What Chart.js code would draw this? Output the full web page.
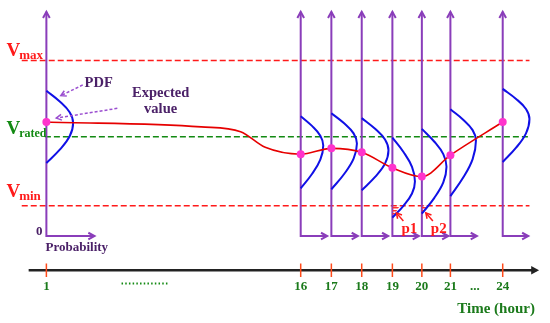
<!DOCTYPE html>
<html>
<head>
<meta charset="utf-8">
<script src="https://cdn.jsdelivr.net/npm/chart.js@4.4.1/dist/chart.umd.min.js"></script>
<style>
  body { margin: 0; background: #fff; }
  #wrap { width: 550px; height: 323px; }
</style>
</head>
<body>
<div id="wrap"><canvas id="myChart"></canvas></div>
<script>
// hours shown on the time axis and where each one sits along it
const hours = ['1', '16', '17', '18', '19', '20', '21', '24'];
const hourPos = [0, 8.46, 9.48, 10.49, 11.51, 12.49, 13.44, 15.18];
// expected voltage at each hour (magenta dots)
const expected = [11.7, 8.4, 9.0, 8.6, 7.0, 6.1, 8.3, 11.7];
// expected-value trace between hour 1 and hour 16 (no dots)
const trendPos = [5.15, 6.46, 7.28];
const trendVal = [11.2, 10.7, 9.1];
// PDF curves: top, widest point, bottom and width of each bell
const pdfTop = [14.9, 12.3, 12.6, 12.1, 10.1, 11.0, 13.0, 15.1];
const pdfPeak = [11.6, 9.3, 9.5, 8.8, 5.6, 7.1, 9.8, 12.0];
const pdfBottom = [7.5, 4.9, 4.8, 4.7, 1.9, 2.3, 4.1, 7.6];
const pdfWidth = [0.89, 0.75, 0.85, 0.89, 0.75, 0.82, 0.85, 0.89];
// probability arrow length at the foot of each axis
const probLen = [1.6, 0.88, 0.88, 0.88, 0.88, 0.88, 0.88, 0.85];
// voltage limits
const vMax = 18.0, vRated = 10.2, vMin = 3.1;
// tails below Vmin (p1, p2): hour index and curve offset at Vmin
const tailHour = [4, 5];
const tailDx = [0.25, 0.18];
const tailLabels = ['p1', 'p2'];

const axisTop = 23.0;
const timeY = -3.5;

const purple = '#8a3dba';
const blue = '#1010e6';
const red = '#ff1a1a';
const green = '#138a13';
const txtPurple = '#4b2168';
const txtGreen = '#1b7a1b';
const serif = "'Liberation Serif', 'DejaVu Serif', serif";

// bell outline: x fraction of width, y fraction of the half (top->peak, peak->bottom)
const bellX = [0, 0.5, 0.87, 1, 0.87, 0.5, 0];
const bellT = [0, 1 / 3, 2 / 3, 1, 1 / 3, 2 / 3, 1];

function seg(pts, color, width, extra) {
  return Object.assign({
    data: pts.map(p => ({x: p[0], y: p[1]})),
    showLine: true, borderColor: color, borderWidth: width,
    pointRadius: 0, fill: false, clip: false
  }, extra || {});
}

// hatch pattern for the tails
const pc = document.createElement('canvas');
pc.width = 4; pc.height = 3;
const pctx = pc.getContext('2d');
pctx.fillStyle = '#ff3030';
pctx.fillRect(0, 0, 4, 1.5);
const hatch = pctx.createPattern(pc, 'repeat');

const datasets = [];
// limit lines
datasets.push(seg([[-0.82, vMax], [16.07, vMax]], red, 1.5, {borderDash: [6, 3], order: 6}));
datasets.push(seg([[-0.05, vRated], [16.07, vRated]], green, 1.5, {borderDash: [6, 3], order: 6}));
datasets.push(seg([[-0.82, vMin], [16.07, vMin]], red, 1.5, {borderDash: [6, 3], order: 6}));
// time axis + ticks + dotted gap
datasets.push(seg([[-0.59, timeY], [16.3, timeY]], '#222', 2.5, {order: 6}));
hourPos.forEach(p => {
  datasets.push(seg([[p, timeY + 0.7], [p, timeY - 0.7]], '#ff4a1a', 1.5, {order: 5}));
});
datasets.push(seg([[2.5, -4.85], [4.05, -4.85]], green, 2, {borderDash: [1.5, 2.2], order: 5}));
// probability axes
hourPos.forEach((p, i) => {
  datasets.push(seg([[p + probLen[i], 0], [p, 0], [p, axisTop]], purple, 2, {order: 4}));
});
// PDF bells
hourPos.forEach((p, i) => {
  const pts = bellX.map((fx, k) => {
    const upper = k < 3 || (k === 3);
    const y = upper
      ? pdfTop[i] + (pdfPeak[i] - pdfTop[i]) * bellT[k]
      : pdfPeak[i] + (pdfBottom[i] - pdfPeak[i]) * bellT[k];
    return [p + fx * pdfWidth[i], y];
  });
  datasets.push(seg(pts, blue, 2, {tension: 0.4, order: 3}));
});
// tails below Vmin
tailHour.forEach((h, k) => {
  const p = hourPos[h];
  datasets.push(seg([[p, pdfBottom[h]], [p + tailDx[k], vMin]], 'rgba(0,0,0,0)', 0,
    {fill: {value: vMin}, backgroundColor: hatch, order: 3}));
});
// expected value trace
const trace = [[hourPos[0], expected[0]]];
trendPos.forEach((p, i) => trace.push([p, trendVal[i]]));
hourPos.slice(1).forEach((p, i) => trace.push([p, expected[i + 1]]));
datasets.push(seg(trace, '#e60000', 1.6, {cubicInterpolationMode: 'monotone', order: 2}));
// dots
datasets.push({
  data: hourPos.map((p, i) => ({x: p, y: expected[i]})),
  pointRadius: 4, pointBackgroundColor: '#ff33cc', pointBorderWidth: 0,
  showLine: false, clip: false, order: 1
});

function head(ctx, x, y, dx, dy, size, color, filled) {
  const a = Math.atan2(dy, dx);
  const s = 0.5;
  ctx.beginPath();
  ctx.moveTo(x - size * Math.cos(a - s), y - size * Math.sin(a - s));
  ctx.lineTo(x, y);
  ctx.lineTo(x - size * Math.cos(a + s), y - size * Math.sin(a + s));
  ctx.strokeStyle = color; ctx.fillStyle = color;
  if (filled) { ctx.closePath(); ctx.fill(); } else { ctx.stroke(); }
}

function arrow(ctx, x1, y1, x2, y2, color, dash) {
  ctx.save();
  ctx.beginPath();
  ctx.setLineDash(dash || []);
  ctx.moveTo(x1, y1); ctx.lineTo(x2, y2);
  ctx.strokeStyle = color; ctx.lineWidth = 1.5; ctx.stroke();
  ctx.setLineDash([]);
  head(ctx, x2, y2, x2 - x1, y2 - y1, 6, color, false);
  ctx.restore();
}

function vLabel(ctx, x, y, sub, color, subSize) {
  ctx.fillStyle = color;
  ctx.textAlign = 'left'; ctx.textBaseline = 'alphabetic';
  ctx.font = 'bold 19px ' + serif;
  ctx.fillText('V', x, y);
  const w = ctx.measureText('V').width;
  ctx.font = 'bold ' + subSize + 'px ' + serif;
  ctx.fillText(sub, x + w - 1, y + 3);
}

const decor = {
  id: 'decor',
  afterDatasetsDraw(chart) {
    const ctx = chart.ctx;
    const X = v => chart.scales.x.getPixelForValue(v);
    const Y = v => chart.scales.y.getPixelForValue(v);
    ctx.save();
    ctx.lineWidth = 2;
    // arrowheads on the probability axes
    hourPos.forEach((p, i) => {
      head(ctx, X(p), Y(axisTop), 0, -1, 7, purple, false);
      head(ctx, X(p + probLen[i]), Y(0), 1, 0, 7, purple, false);
    });
    // time axis head
    head(ctx, X(16.39), Y(timeY), 1, 0, 9, '#222', true);

    // voltage labels
    vLabel(ctx, X(-1.33), Y(vMax) - 5, 'max', red, 13);
    vLabel(ctx, X(-1.33), Y(vRated) - 3, 'rated', green, 12);
    vLabel(ctx, X(-1.33), Y(vMin) - 9, 'min', red, 13);

    ctx.font = 'bold 13px ' + serif;
    ctx.fillStyle = txtPurple;
    ctx.textAlign = 'right'; ctx.textBaseline = 'alphabetic';
    ctx.fillText('0', X(-0.13), Y(0) - 1);
    ctx.textAlign = 'left';
    ctx.fillText('Probability', X(-0.03), Y(0) + 15);
    ctx.font = 'bold 14.5px ' + serif;
    ctx.textAlign = 'center';
    ctx.fillText('PDF', X(1.74), Y(15.3));
    ctx.fillText('Expected', X(3.8), Y(14.3));
    ctx.fillText('value', X(3.8), Y(12.6));

    // annotation arrows
    arrow(ctx, X(1.21), Y(15.5), X(0.48), Y(14.4), '#9b4fd0', [3, 2]);
    arrow(ctx, X(2.36), Y(13.1), X(0.33), Y(12.1), '#9b4fd0', [3, 2]);

    // tail labels
    ctx.font = 'bold 15px ' + serif;
    ctx.fillStyle = red;
    tailHour.forEach((h, k) => {
      const p = hourPos[h];
      ctx.textAlign = 'left';
      ctx.fillText(tailLabels[k], X(p) + 9, Y(0) - 3);
      arrow(ctx, X(p) + 11, Y(0) - 15, X(p) + 4, Y(vMin) + 7, red, []);
    });

    // hour labels
    ctx.font = 'bold 13px ' + serif;
    ctx.fillStyle = txtGreen;
    ctx.textAlign = 'center';
    hours.forEach((h, i) => ctx.fillText(h, X(hourPos[i]), Y(-5.5)));
    ctx.fillText('...', X(14.25), Y(-5.5));
    ctx.font = 'bold 15px ' + serif;
    ctx.textAlign = 'right';
    ctx.fillText('Time (hour)', X(16.25), Y(-7.85));
    ctx.restore();
  }
};

const ctx = document.getElementById('myChart');
const myChart = new Chart(ctx, {
  type: 'scatter',
  data: {datasets: datasets},
  options: {
    responsive: true,
    maintainAspectRatio: false,
    animation: false,
    layout: {padding: 0},
    plugins: {legend: {display: false}, tooltip: {enabled: false}},
    scales: {
      x: {type: 'linear', min: -1.41, max: 16.62, display: false},
      y: {type: 'linear', min: -8.5, max: 23.8, display: false}
    }
  },
  plugins: [decor]
});
</script>
</body>
</html>
